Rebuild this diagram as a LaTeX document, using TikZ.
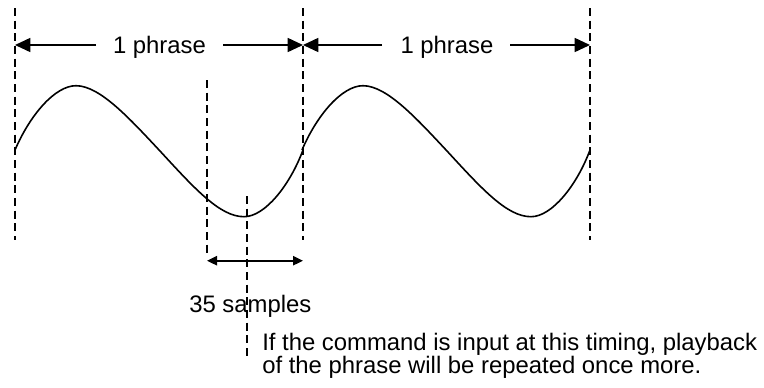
\documentclass[tikz,border=0pt]{standalone}
\usepackage{fontspec}
\setmainfont{Liberation Sans}
\usetikzlibrary{arrows.meta}
\begin{document}
\begin{tikzpicture}[x=0.75pt,y=-0.75pt,
  guide/.style={line width=1pt, dash pattern=on 6pt off 3.5pt},
  bigarr/.style={line width=1.2pt, -{Triangle[length=11.5pt,width=10.5pt]}},
  smallarr/.style={line width=1.2pt, {Triangle[length=7.5pt,width=7pt]}-{Triangle[length=7.5pt,width=7pt]}},
  wave/.style={line width=1.2pt},
  lbl/.style={font=\fontsize{17.9pt}{19.1pt}\selectfont, inner sep=0pt}]
\useasboundingbox (0,0) rectangle (764,387);
% guide lines
\coordinate (a1) at (15,8);   \coordinate (a2) at (15,240);
\coordinate (b1) at (303,8);  \coordinate (b2) at (303,240);
\coordinate (c1) at (590,8);  \coordinate (c2) at (590,240);
\coordinate (d1) at (207,80); \coordinate (d2) at (207,256);
\coordinate (e1) at (247,196); \coordinate (e2) at (247,356);
\draw[guide] (a1) -- (a2);
\draw[guide] (b1) -- (b2);
\draw[guide] (c1) -- (c2);
\draw[guide] (d1) -- (d2);
% wave
\draw[wave] (15,150) .. controls (30,115) and (55,85.7) .. (76,85.7)
  .. controls (100,85.7) and (130,119) .. (160,151)
  .. controls (195,189) and (220,216.7) .. (244,216.7)
  .. controls (265,216.7) and (290,185) .. (303,150);
\begin{scope}[shift={(287,0)}]
\draw[wave] (15,150) .. controls (30,115) and (55,85.7) .. (76,85.7)
  .. controls (100,85.7) and (130,119) .. (160,151)
  .. controls (195,189) and (220,216.7) .. (244,216.7)
  .. controls (265,216.7) and (290,185) .. (303,150);
\end{scope}
% phrase arrows
\coordinate (L) at (15,45); \coordinate (M) at (303,45); \coordinate (R) at (590,45);
\node[lbl, anchor=base] (p1) at (159.5,53.3) {1 phrase};
\node[lbl, anchor=base] (p2) at (447,53.3) {1 phrase};
\draw[bigarr] (96,45) -- (L);
\draw[bigarr] (223,45) -- (M);
\draw[bigarr] (382,45) -- (M);
\draw[bigarr] (510,45) -- (R);
% samples arrow
\coordinate (s1) at (207,260.7); \coordinate (s2) at (303,260.7);
\draw[smallarr] (s1) -- (s2);
\node[lbl, anchor=base west] (samp) at (189,312) {35 samples};
\draw[guide] (e1) -- (e2);
\node[lbl, anchor=base west] (t1) at (262,350) {If the command is input at this timing, playback};
\node[lbl, anchor=base west] (t2) at (262,373) {of the phrase will be repeated once more.};
\end{tikzpicture}
\end{document}
